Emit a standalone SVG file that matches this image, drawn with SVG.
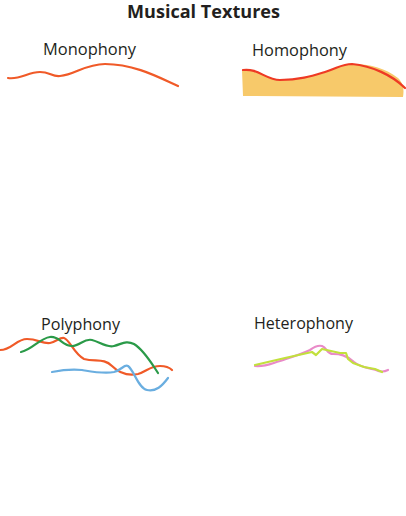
<svg xmlns="http://www.w3.org/2000/svg" width="406" height="516" viewBox="0 0 406 516">
<style>
.t{font-family:"Open Sans","Liberation Sans",sans-serif;fill:#231f20}
.lbl{font-size:15.5px}
.ln{fill:none;stroke-width:2.2;stroke-linecap:round;stroke-linejoin:round}
</style>
<rect width="406" height="516" fill="#fff"/>
<text class="t" x="203.5" y="18" text-anchor="middle" font-size="17.5" font-weight="bold" textLength="153" lengthAdjust="spacingAndGlyphs">Musical Textures</text>
<g id="monophony">
<text class="t lbl" x="43" y="55" textLength="93" lengthAdjust="spacingAndGlyphs">Monophony</text>
<path class="ln" stroke="#f05a28" d="M8,78 C20,80 28,72 40,72 C50,72 52,77 60,76 C75,75 85,64 105,64 C135,64 160,78 178,86"/>
</g>
<g id="homophony">
<text class="t lbl" x="252" y="56" textLength="95" lengthAdjust="spacingAndGlyphs">Homophony</text>
<path fill="#f7c96a" d="M242,70 C258,68 268,80 280,80 C300,80 310,76 325,72 C338,68 342,64 352,64 C370,64 385,68 398,78 C404,84 404,90 403,97 L243,96 Z"/>
<path class="ln" stroke="#ee3a24" d="M243,70 C258,68 266,80 280,80 C300,80 312,76 325,72 C338,68 342,64 352,64 C372,66 392,75 405,88"/>
</g>
<g id="polyphony">
<text class="t lbl" x="41" y="330" textLength="79" lengthAdjust="spacingAndGlyphs">Polyphony</text>
<path class="ln" stroke="#f05a28" d="M0,350 C12,350 16,339 27,339 C38,339 42,344 50,343 C56,342 60,337 64,338 C70,340 74,354 84,359 C96,362 104,358 112,366 C120,374 128,376 138,374 C146,372 150,366 160,366 C166,366 170,368 172,370"/>
<path class="ln" stroke="#2a9a48" d="M21,352 C32,350 40,338 50,337 C60,336 62,346 72,346 C80,346 84,338 92,340 C100,342 106,348 114,346 C122,344 126,340 134,344 C144,350 152,364 158,373"/>
<path class="ln" stroke="#6aaee0" d="M52,372 C62,370 72,369 82,370 C94,372 104,374 114,372 C122,370 124,364 128,366 C134,370 138,388 147,390 C156,392 162,386 168,378"/>
</g>
<g id="heterophony">
<text class="t lbl" x="254" y="329" textLength="99" lengthAdjust="spacingAndGlyphs">Heterophony</text>
<path class="ln" stroke="#e98ac8" d="M255,366 C265,367 270,364 280,361 C292,357 302,354 310,350 C314,347 318,345 322,346 C327,348 327,354 333,354 C340,354 346,355 354,362 C360,367 368,368 376,370 C380,372 384,372 388,370"/>
<path class="ln" stroke="#c2e03c" d="M255,365 L285,358 L312,352 L316,355 L322,349 L340,353 L346,353 L348,359 L353,363 L364,367 L375,369 L382,372"/>
</g>
</svg>
